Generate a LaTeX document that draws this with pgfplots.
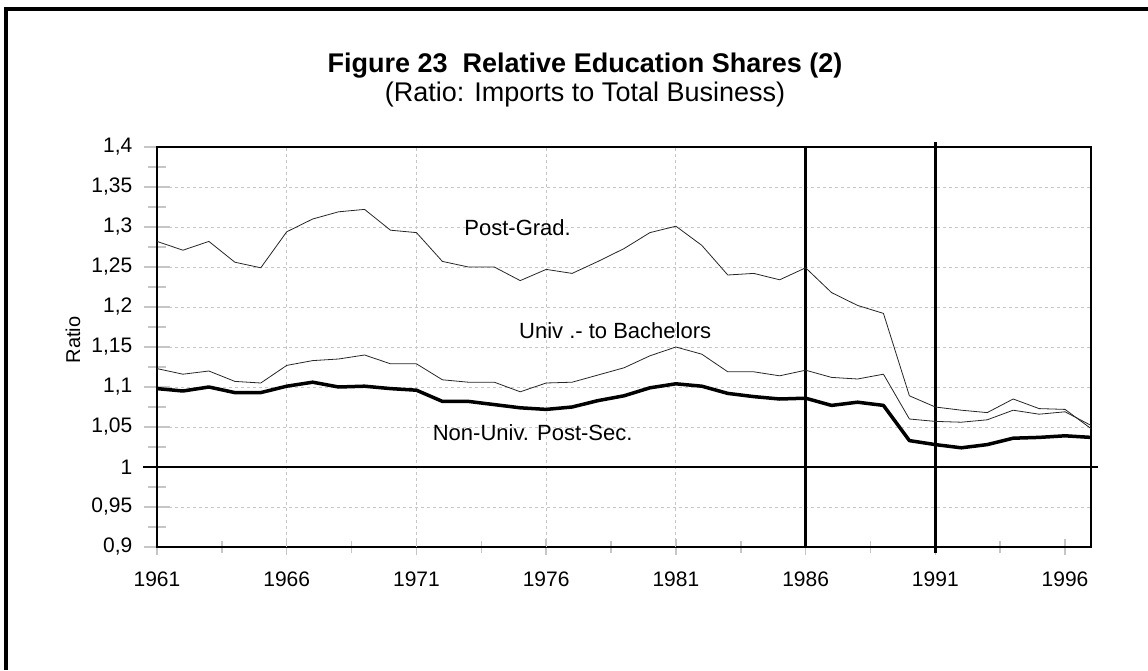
\documentclass[border=0pt]{standalone}
\usepackage{fontspec}
\setmainfont{Liberation Sans}
\usepackage{pgfplots}
\pgfplotsset{compat=1.18}
\usepackage{pgfplotstable}
\pgfplotstableread{
year pg ub nu
1961 1.282 1.123 1.098
1962 1.271 1.116 1.095
1963 1.282 1.120 1.100
1964 1.256 1.107 1.093
1965 1.249 1.105 1.093
1966 1.294 1.127 1.101
1967 1.310 1.133 1.106
1968 1.319 1.135 1.100
1969 1.322 1.140 1.101
1970 1.296 1.129 1.098
1971 1.293 1.129 1.096
1972 1.257 1.109 1.082
1973 1.250 1.106 1.082
1974 1.250 1.106 1.078
1975 1.233 1.094 1.074
1976 1.247 1.105 1.072
1977 1.242 1.106 1.075
1978 1.257 1.115 1.083
1979 1.273 1.124 1.089
1980 1.293 1.139 1.099
1981 1.301 1.150 1.104
1982 1.277 1.141 1.101
1983 1.240 1.119 1.092
1984 1.242 1.119 1.088
1985 1.234 1.114 1.085
1986 1.249 1.121 1.086
1987 1.218 1.112 1.077
1988 1.202 1.110 1.081
1989 1.192 1.116 1.077
1990 1.089 1.060 1.033
1991 1.075 1.057 1.028
1992 1.071 1.056 1.024
1993 1.068 1.059 1.028
1994 1.085 1.071 1.036
1995 1.073 1.066 1.037
1996 1.072 1.069 1.039
1997 1.048 1.052 1.037
}\datatable
\begin{document}
\begin{tikzpicture}
\useasboundingbox (0,0) rectangle (1148pt,670pt);
\draw[line width=4pt] (6pt,0pt) -- (6pt,661pt) -- (1148pt,661pt);
\node[anchor=base, font=\bfseries\fontsize{27}{31}\selectfont] at (585pt,597pt) {Figure 23\ \ Relative Education Shares (2)};
\node[anchor=base, font=\fontsize{27}{31}\selectfont] at (585pt,568pt) {(Ratio: Imports to Total Business)};
\node[rotate=90, font=\fontsize{20}{24}\selectfont] at (73pt,330pt) {Ratio};
\begin{axis}[
  at={(157pt,123pt)}, anchor=south west, scale only axis,
  width=934pt, height=400pt,
  xmin=1961, xmax=1997, ymin=0.9, ymax=1.4,
  clip=false,
  axis line style={black, line width=2pt},
  xtick={1961,1966,1971,1976,1981,1986,1991,1996},
  xticklabels={1961,1966,1971,1976,1981,1986,1991,1996},
  minor xtick={1963.5,1968.5,1973.5,1978.5,1983.5,1988.5,1993.5},
  ytick={0.9,0.95,1,1.05,1.1,1.15,1.2,1.25,1.3,1.35,1.4},
  yticklabels={{0,9},{0,95},{1},{1,05},{1,1},{1,15},{1,2},{1,25},{1,3},{1,35},{1,4}},
  minor ytick={0.925,0.975,1.025,1.075,1.125,1.175,1.225,1.275,1.325,1.375},
  tick pos=left, tick align=center,
  every tick/.style={gray!45, line width=1.5pt},
  xtick style={/pgfplots/major tick length=16pt, /pgfplots/minor tick length=12pt},
  ytick style={/pgfplots/major tick length=27pt, /pgfplots/minor tick length=18pt},
  ymajorgrids,
  major grid style={gray!45, dashed, line width=0.8pt},
  ticklabel style={font=\fontsize{21}{25}\selectfont, text=black},
  yticklabel style={xshift=-19pt},
  xticklabel style={yshift=-19pt},
]
\foreach \yr in {1966,1971,1976,1981} {
  \edef\tmp{\noexpand\draw[gray!45, dashed, line width=0.8pt] (axis cs:\yr,0.9) -- (axis cs:\yr,1.4);}
  \tmp
}
\draw[black, line width=2.5pt] ([xshift=-14pt]axis cs:1961,1) -- ([xshift=7pt]axis cs:1997,1);
\draw[black, line width=2.5pt] (axis cs:1986,0.9) -- (axis cs:1986,1.4);
\draw[black, line width=2.5pt] ([yshift=-6pt]axis cs:1991,0.9) -- ([yshift=5pt]axis cs:1991,1.4);
\addplot[black!85, line width=0.8pt] table[x=year, y=pg] {\datatable};
\addplot[black!85, line width=0.8pt] table[x=year, y=ub] {\datatable};
\addplot[black, line width=3.5pt, line join=round] table[x=year, y=nu] {\datatable};
\node[anchor=base, font=\fontsize{22}{26}\selectfont] at (axis cs:1974.9,1.2898) {Post-Grad.};
\node[anchor=base, font=\fontsize{22}{26}\selectfont] at (axis cs:1978.66,1.1603) {Univ .- to Bachelors};
\node[anchor=base, font=\fontsize{22}{26}\selectfont] at (axis cs:1975.48,1.0332) {Non-Univ. Post-Sec.};
\end{axis}
\end{tikzpicture}
\end{document}
